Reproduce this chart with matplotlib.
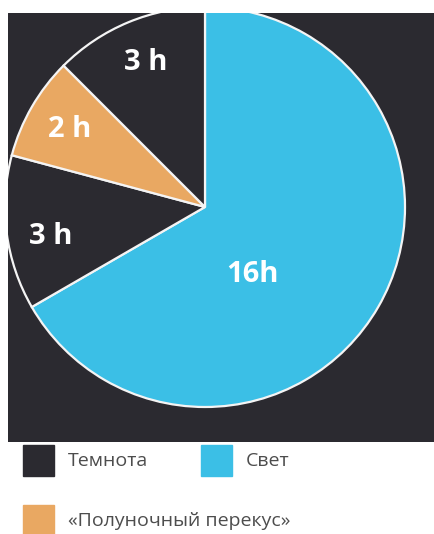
import numpy as np
import matplotlib.pyplot as plt
from matplotlib.patches import Rectangle

# hours of the day split by lighting regime
labels = ['Свет', 'Темнота', '«Полуночный перекус»', 'Темнота']
hours = [16, 3, 2, 3]
colors = ['#3bbfe6', '#2b2a30', '#e9a862', '#2b2a30']
legend_names = ['Темнота', 'Свет', '«Полуночный перекус»']
legend_colors = ['#2b2a30', '#3bbfe6', '#e9a862']

W, H = 435, 534
fig = plt.figure(figsize=(W / 100, H / 100), dpi=100)
fig.patch.set_facecolor('white')

# dark panel behind the pie, working in pixel units (y going up)
px0, px1, py0, py1 = 8, 435, H - 442, H - 13
ax = fig.add_axes([px0 / W, py0 / H, (px1 - px0) / W, (py1 - py0) / H])
ax.add_patch(Rectangle((px0, py0), px1 - px0, py1 - py0, color='#2b2a30', zorder=0))

cx, cy, R = 205, H - 207, 200
wedges, _ = ax.pie(hours, colors=colors, startangle=90, counterclock=False,
                   center=(cx, cy), radius=R, frame=True,
                   wedgeprops=dict(edgecolor='#f4f4f4', linewidth=1.6))
ax.set_xlim(px0, px1)
ax.set_ylim(py0, py1)
ax.set_aspect('equal')
ax.axis('off')
for w in wedges:
    w.set_clip_on(True)  # circle runs slightly past the panel edges

# label placement per wedge: (angle offset from wedge middle, radius fraction)
label_place = [(-25, 0.41), (3.5, 0.785), (0, 0.78), (0, 0.78)]
for w, h, (doff, rf) in zip(wedges, hours, label_place):
    mid = np.deg2rad((w.theta1 + w.theta2) / 2 + doff)
    txt = f'{h}h' if h >= 10 else f'{h} h'
    ax.text(cx + rf * R * np.cos(mid), cy + rf * R * np.sin(mid), txt,
            ha='center', va='center', color='white', fontsize=21,
            fontweight='bold', family='Open Sans')

# legend drawn as squares with captions
legend_pos = [(23, 445), (201, 445), (23, 505)]
for (lx, ly), name, col in zip(legend_pos, legend_names, legend_colors):
    fig.patches.append(Rectangle((lx / W, (H - ly - 31) / H), 31 / W, 31 / H,
                                 transform=fig.transFigure, color=col))
    fig.text((lx + 45) / W, (H - ly - 16) / H, name, ha='left', va='center',
             fontsize=14, color='#4d4d4d', family='Open Sans')

fig.savefig('out.png', dpi=100, facecolor='white')
